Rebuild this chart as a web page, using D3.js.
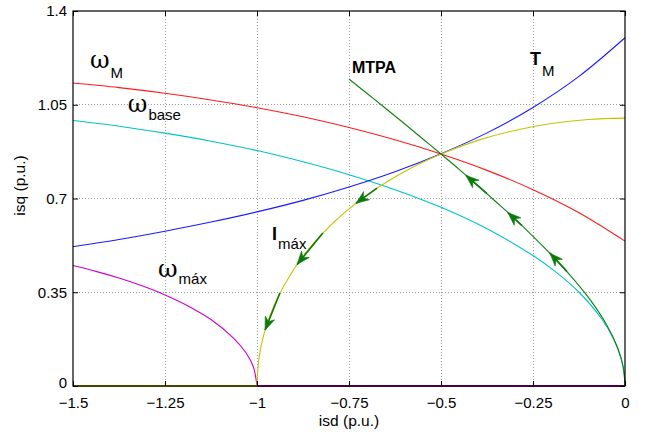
<!DOCTYPE html>
<html>
<head>
<meta charset="utf-8">
<script src="https://cdn.jsdelivr.net/npm/d3@7"></script>
<style>
  html, body { margin: 0; padding: 0; background: #fff; }
  svg { display: block; }
  text { font-family: "Liberation Sans", Arial, Helvetica, sans-serif; fill: #000; }
</style>
</head>
<body>
<svg id="chart" width="647" height="432"></svg>
<script>
// Axis ticks and labels
const xTicks = [-1.5, -1.25, -1, -0.75, -0.5, -0.25, 0];
const xTickLabels = ["\u22121.5", "\u22121.25", "\u22121", "\u22120.75", "\u22120.5", "\u22120.25", "0"];
const yTicks = [0, 0.35, 0.7, 1.05, 1.4];
const yTickLabels = ["0", "0.35", "0.7", "1.05", "1.4"];

// Constant-torque curve T_M  [isd, isq]
const torqueCurve = [[-1.5,0.520],[-1.375,0.547],[-1.25,0.578],[-1.125,0.612],[-1,0.650],[-0.875,0.693],
  [-0.75,0.743],[-0.625,0.800],[-0.5,0.867],[-0.375,0.945],[-0.25,1.040],[-0.125,1.156],[0,1.300]];

// Voltage-limit ellipse at speed ω_M
const omegaMCurve = [[-1.5,1.131],[-1.375,1.114],[-1.25,1.093],[-1.125,1.068],[-1,1.039],[-0.875,1.005],
  [-0.75,0.965],[-0.625,0.919],[-0.5,0.866],[-0.375,0.805],[-0.25,0.733],[-0.125,0.647],[0,0.541]];

// Voltage-limit ellipse at base speed
const omegaBaseCurve = [[-1.5,0.991],[-1.375,0.970],[-1.25,0.944],[-1.125,0.914],[-1,0.879],[-0.875,0.837],
  [-0.75,0.789],[-0.625,0.733],[-0.5,0.667],[-0.375,0.587],[-0.25,0.487],[-0.1875,0.425],[-0.125,0.350],
  [-0.0625,0.249],[-0.03,0.173],[-0.01,0.100],[-0.0025,0.050],[0,0]];

// Voltage-limit ellipse at maximum speed
const omegaMaxCurve = [[-1.5,0.450],[-1.4375,0.428],[-1.375,0.403],[-1.3125,0.374],[-1.25,0.340],
  [-1.1875,0.299],[-1.125,0.248],[-1.0625,0.177],[-1.03,0.124],[-1.01,0.072],[-1,0]];
const omegaMaxBase = [[-1,0],[0,0]];

// Current-limit circle I_max
const currentLimitCurve = [[-1,0],[-0.995,0.0999],[-0.98,0.199],[-0.95,0.312],[-0.9,0.436],[-0.85,0.527],
  [-0.8,0.600],[-0.75,0.661],[-0.7,0.714],[-0.6,0.800],[-0.5,0.866],[-0.4,0.917],[-0.3,0.954],
  [-0.2,0.980],[-0.1,0.995],[0,1.000]];
const currentLimitBase = [[-1.5,0],[-1,0]];

// Maximum torque per ampere trajectory
const mtpaCurve = [[-0.75,1.146],[-0.7,1.091],[-0.65,1.036],[-0.6,0.980],[-0.55,0.923],[-0.5,0.866],
  [-0.45,0.808],[-0.4,0.748],[-0.35,0.687],[-0.3,0.625],[-0.25,0.559],[-0.2,0.490],[-0.15,0.415],
  [-0.1,0.332],[-0.05,0.229],[-0.02,0.143],[-0.005,0.071],[0,0]];

// Direction arrows: [tail isd, tail isq, tip isd, tip isq]
const mtpaArrows = [[-0.375,0.718,-0.432,0.786],[-0.280,0.599,-0.318,0.647],[-0.158,0.428,-0.204,0.496]];
const limitArrows = [[-0.674,0.739,-0.731,0.682],[-0.821,0.571,-0.891,0.454],[-0.9375,0.348,-0.978,0.209]];

// Curve annotations: main symbol, subscript, anchor (isd, isq)
const annotations = [
  {main: "\u03c9", sub: "M", at: [-1.454, 1.187], greek: true, dy: 10},
  {main: "\u03c9", sub: "base", at: [-1.351, 1.022], greek: true, dy: 8},
  {main: "\u03c9", sub: "m\u00e1x", at: [-1.269, 0.407], greek: true, dy: 7},
  {main: "I", sub: "m\u00e1x", at: [-0.959, 0.545], greek: false, dy: 9},
  {main: "T", sub: "M", at: [-0.258, 1.198], greek: false, dy: 11},
  {main: "MTPA", sub: "", at: [-0.742, 1.169], greek: false, dy: 0}
];

const svg = d3.select("#chart");
const margin = {left: 73, right: 22, top: 11, bottom: 46};
const W = 647, H = 432;
const x = d3.scaleLinear().domain([-1.5, 0]).range([margin.left, W - margin.right]);
const y = d3.scaleLinear().domain([0, 1.4]).range([H - margin.bottom, margin.top]);
const plotW = x.range()[1] - x.range()[0];
const plotH = y.range()[0] - y.range()[1];

// Dotted grid
const grid = svg.append("g");
grid.selectAll("line.gx").data(xTicks.slice(1, -1)).join("line")
  .attr("x1", d => x(d)).attr("x2", d => x(d)).attr("y1", y(0)).attr("y2", y(1.4))
  .attr("stroke", "#9a9a9a").attr("stroke-width", 1).attr("stroke-dasharray", "1,2")
  .attr("shape-rendering", "crispEdges");
grid.selectAll("line.gy").data(yTicks.slice(1, -1)).join("line")
  .attr("y1", d => y(d)).attr("y2", d => y(d)).attr("x1", x(-1.5)).attr("x2", x(0))
  .attr("stroke", "#9a9a9a").attr("stroke-width", 1).attr("stroke-dasharray", "1,2")
  .attr("shape-rendering", "crispEdges");

// Curves
const line = d3.line().x(d => x(d[0])).y(d => y(d[1])).curve(d3.curveCatmullRom.alpha(0.5));
const straight = d3.line().x(d => x(d[0])).y(d => y(d[1]));
const curves = svg.append("g").attr("fill", "none").attr("stroke-width", 1.1);
curves.append("path").attr("d", line(omegaBaseCurve)).attr("stroke", "#00c4c4");
curves.append("path").attr("d", line(omegaMCurve)).attr("stroke", "#ff1a1a");
curves.append("path").attr("d", line(torqueCurve)).attr("stroke", "#1a1aff");
curves.append("path").attr("d", line(omegaMaxCurve)).attr("stroke", "#cc00cc");
curves.append("path").attr("d", line(currentLimitCurve)).attr("stroke", "#c4c400");
curves.append("path").attr("d", line(mtpaCurve)).attr("stroke", "#108010");
curves.append("path").attr("d", straight(currentLimitBase)).attr("stroke", "#b0b000").attr("stroke-width", 2);
curves.append("path").attr("d", straight(omegaMaxBase)).attr("stroke", "#b000b0").attr("stroke-width", 2);

// Arrows along the operating trajectory
const arrows = svg.append("g");
function drawArrow(a) {
  const x0 = x(a[0]), y0 = y(a[1]), x1 = x(a[2]), y1 = y(a[3]);
  const ang = Math.atan2(y1 - y0, x1 - x0) * 180 / Math.PI;
  arrows.append("line").attr("x1", x0).attr("y1", y0).attr("x2", x1).attr("y2", y1)
    .attr("stroke", "#0a7a0a").attr("stroke-width", 1.6);
  arrows.append("path").attr("d", "M0,0 L-13,-5 L-9,0 L-13,5 Z")
    .attr("transform", `translate(${x1},${y1}) rotate(${ang})`)
    .attr("fill", "#0a7a0a").attr("stroke", "#0a7a0a").attr("stroke-width", 0.6)
    .attr("stroke-linejoin", "miter");
}
mtpaArrows.forEach(drawArrow);
limitArrows.forEach(drawArrow);

// Axes with inward ticks
const xAxis = d3.axisBottom(x).tickValues(xTicks).tickSizeInner(-5).tickSizeOuter(0).tickPadding(11)
  .tickFormat((d, i) => xTickLabels[i]);
const yAxis = d3.axisLeft(y).tickValues(yTicks).tickSizeInner(-5).tickSizeOuter(0).tickPadding(6)
  .tickFormat((d, i) => yTickLabels[i]);
const gx = svg.append("g").attr("transform", `translate(0,${y(0)})`).call(xAxis);
const gy = svg.append("g").attr("transform", `translate(${x(-1.5)},0)`).call(yAxis);
const gxTop = svg.append("g").attr("transform", `translate(0,${y(1.4)})`)
  .call(d3.axisTop(x).tickValues(xTicks).tickSizeInner(-5).tickSizeOuter(0).tickFormat(""));
const gyRight = svg.append("g").attr("transform", `translate(${x(0)},0)`)
  .call(d3.axisRight(y).tickValues(yTicks).tickSizeInner(-5).tickSizeOuter(0).tickFormat(""));
[gx, gy, gxTop, gyRight].forEach(g => {
  g.select(".domain").remove();
  g.selectAll(".tick line").attr("stroke", "#000").attr("stroke-width", 1);
  g.selectAll("text").attr("font-size", 15).attr("font-family", "Liberation Sans, Arial, sans-serif").attr("fill", "#000");
});
// Vertical centring of y labels; the lowest one sits a little higher to clear the x labels
gy.selectAll(".tick text").attr("dy", (d, i) => i === 0 ? "0.12em" : "0.33em");

// Plot frame
svg.append("rect").attr("x", x(-1.5)).attr("y", y(1.4)).attr("width", plotW).attr("height", plotH)
  .attr("fill", "none").attr("stroke", "#000").attr("stroke-width", 1.2);

// Axis titles
svg.append("text").attr("x", (x(-1.5) + x(0)) / 2).attr("y", 426).attr("text-anchor", "middle")
  .attr("font-size", 15.5).text("isd (p.u.)");
svg.append("text").attr("transform", `translate(25,${(y(0) + y(1.4)) / 2 - 13}) rotate(-90)`)
  .attr("text-anchor", "middle").attr("font-size", 15.5).text("isq (p.u.)");

// Curve annotations
const ann = svg.append("g");
annotations.forEach(a => {
  const t = ann.append("text").attr("x", x(a.at[0])).attr("y", y(a.at[1]));
  if (a.greek) {
    t.append("tspan").attr("font-family", "DejaVu Serif, serif").attr("font-size", 24).text(a.main);
  } else {
    t.append("tspan").attr("font-weight", "bold").attr("font-size", a.sub ? 18 : 16).text(a.main);
  }
  if (a.sub) {
    t.append("tspan").attr("font-size", 15).attr("dy", a.dy).attr("dx", 1).text(a.sub);
  }
});
</script>
</body>
</html>
